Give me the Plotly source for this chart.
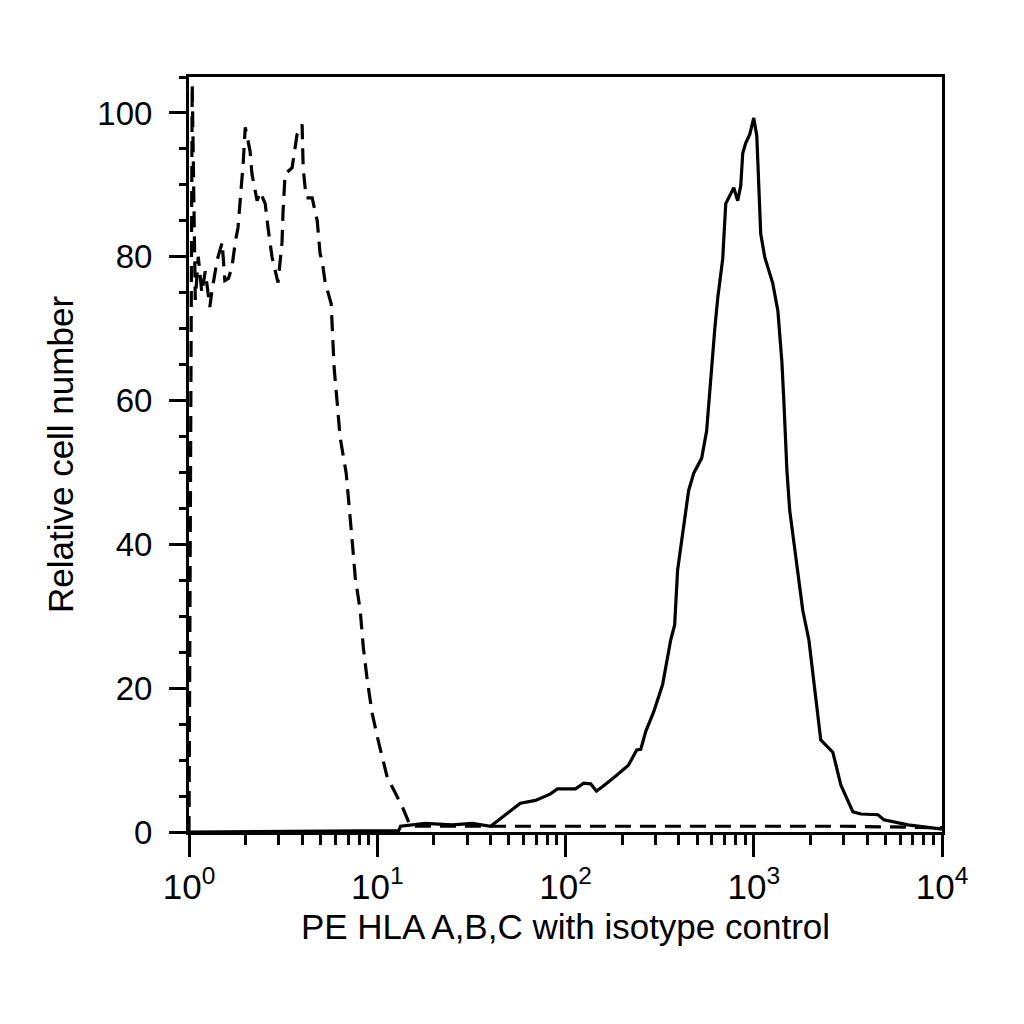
import plotly.graph_objects as go

# isotype control (dashed) - fluorescence vs relative cell number
iso_x = [1.0, 1.04, 1.08, 1.12, 1.17, 1.22, 1.29, 1.32, 1.41, 1.50, 1.55, 1.62,
         1.69, 1.76, 1.82, 1.87, 1.94, 1.99, 2.11, 2.16, 2.30, 2.39, 2.54, 2.63,
         2.76, 2.97, 3.12, 3.16, 3.24, 3.53, 3.75, 3.99, 4.04, 4.19, 4.51, 4.80,
         4.97, 5.10, 5.29, 5.69, 5.83, 5.90, 6.13, 6.35, 6.84, 7.10, 7.36, 7.64,
         8.12, 8.43, 8.85, 9.40, 10.1, 11.3, 13.6, 15.0, 20, 40, 100, 300,
         1000, 3000, 10000]
iso_y = [0, 104, 74, 80, 75, 78, 73, 75, 79.5, 82, 76.7, 77,
         78.5, 82, 84, 87.8, 93, 98, 94.7, 91.5, 87.8, 89, 87.4, 84,
         80, 76.4, 82, 86.4, 91.5, 92.4, 97, 98.4, 92.4, 88.2, 88.2, 85,
         80.4, 79.4, 76.4, 73.5, 68.3, 64.6, 59.6, 54.9, 49.9, 45.5, 40.5, 35.4,
         30.8, 25.7, 21.1, 16.5, 12.8, 7.6, 3.5, 0.8, 0.8, 0.8, 0.7, 0.8,
         0.7, 0.8, 0.6]

# PE HLA A,B,C stained (solid)
hla_x = [1.0, 13.0, 13.3, 18, 25, 32, 40, 46, 57.6, 69.3, 83.2, 90.6,
         113, 125, 136, 146, 157, 185, 216, 239, 251, 267, 294, 328,
         362, 380, 394, 414, 430, 451, 480, 529, 562, 583, 598, 621,
         644, 667, 684, 710, 783, 822, 853, 874, 906, 952, 988, 1000,
         1038, 1064, 1089, 1145, 1202, 1262, 1343, 1410, 1445, 1500, 1553, 1671,
         1822, 1963, 2138, 2270, 2630, 2904, 3364, 3707, 4567, 4912, 6592, 9640,
         10000]
hla_y = [0, 0.2, 0.8, 1.2, 1.0, 1.2, 0.8, 2.0, 4.0, 4.4, 5.3, 6.0,
         6.0, 6.8, 6.7, 5.7, 6.3, 7.8, 9.3, 11.4, 11.5, 14.0, 16.7, 20.5,
         26.7, 28.8, 36.4, 40.5, 44, 47.5, 49.9, 52, 55.8, 61.4, 65.5, 70,
         74.3, 78, 79.7, 87.4, 89.6, 87.8, 89.9, 94.4, 95.8, 97, 98.9, 99.3,
         96.8, 90.5, 83.2, 79.9, 78, 76.3, 72.5, 65.5, 60, 50.3, 44.7, 38.5,
         30.8, 26.7, 19, 12.8, 11.1, 6.5, 2.8, 2.5, 2.4, 1.7, 1.0, 0.5,
         0.4]

x_ticks = [1, 10, 100, 1000, 10000]
x_ticktext = ["10<sup>0</sup>", "10<sup>1</sup>", "10<sup>2</sup>",
              "10<sup>3</sup>", "10<sup>4</sup>"]
x_minor = [m * 10 ** k for k in range(4) for m in range(2, 10)]
y_ticks = [0, 20, 40, 60, 80, 100]

FONT = "Liberation Sans"

fig = go.Figure()
fig.add_trace(go.Scatter(x=iso_x, y=iso_y, mode="lines",
                         line=dict(color="black", width=3.2, dash="16px,9px")))
fig.add_trace(go.Scatter(x=hla_x, y=hla_y, mode="lines",
                         line=dict(color="black", width=3.2)))

fig.update_layout(
    width=1024, height=1024,
    margin=dict(l=181, r=90, t=69, b=200),
    paper_bgcolor="white", plot_bgcolor="white",
    showlegend=False,
    font=dict(family=FONT, size=34, color="black"),
)
fig.update_xaxes(
    type="log", range=[0, 4],
    tickvals=x_ticks, ticktext=x_ticktext,
    ticks="outside", ticklen=22, tickwidth=3, tickcolor="black",
    minor=dict(tickvals=x_minor, ticks="outside", ticklen=10, tickwidth=3,
               tickcolor="black", showgrid=False),
    showline=True, linewidth=3, linecolor="black", mirror=True,
    showgrid=False, zeroline=False,
    tickfont=dict(family=FONT, size=35),
    title=dict(text="PE HLA A,B,C with isotype control",
               font=dict(family=FONT, size=35), standoff=10),
)
fig.update_yaxes(
    range=[0, 105], tickvals=y_ticks,
    ticks="outside", ticklen=17, tickwidth=3, tickcolor="black",
    minor=dict(dtick=5, ticks="outside", ticklen=7, tickwidth=3,
               tickcolor="black", showgrid=False),
    showline=True, linewidth=3, linecolor="black", mirror=True,
    showgrid=False, zeroline=False,
    tickfont=dict(family=FONT, size=33),
    ticklabelstandoff=10,
    title=dict(text="Relative cell number",
               font=dict(family=FONT, size=35), standoff=14),
)

fig.write_html("out.html")
